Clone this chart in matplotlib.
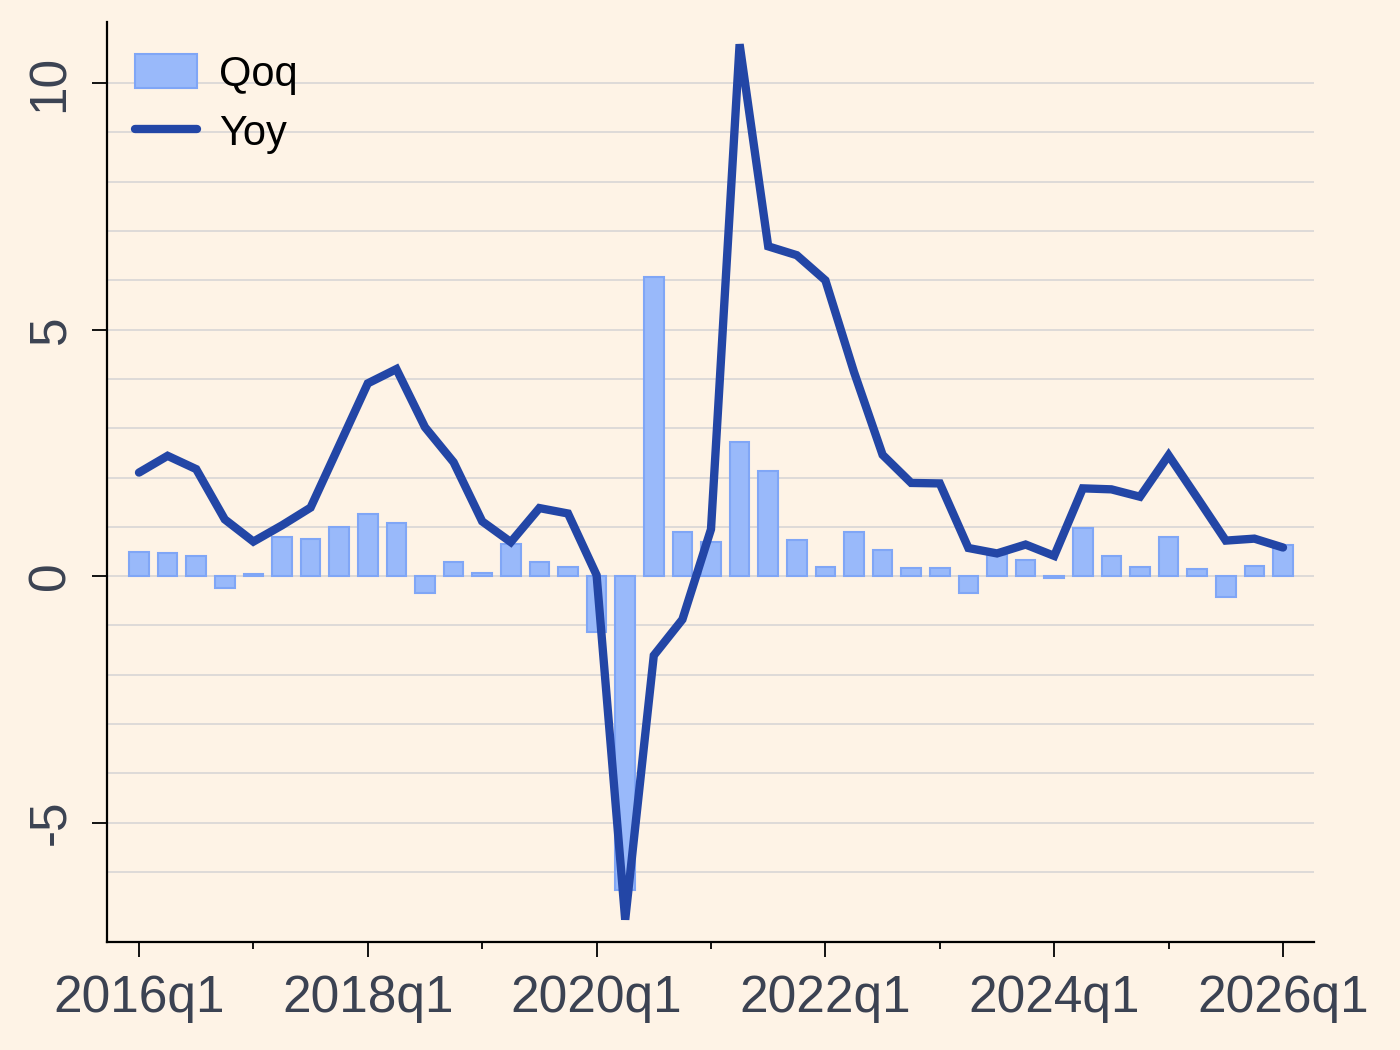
import matplotlib.pyplot as plt
import numpy as np

plt.rcParams['font.family'] = ['Liberation Sans', 'DejaVu Sans']
plt.rcParams['axes.unicode_minus'] = False

# quarters 2016q1 .. 2026q1
quarters = [f"{y}q{q}" for y in range(2016, 2027) for q in range(1, 5)][:41]

qoq = [0.48, 0.46, 0.41, -0.25, 0.05, 0.80, 0.76, 0.99, 1.26, 1.07,
       -0.35, 0.29, 0.07, 0.65, 0.28, 0.19, -1.13, -6.36, 6.06, 0.90,
       0.70, 2.73, 2.14, 0.73, 0.19, 0.90, 0.53, 0.17, 0.17, -0.35,
       0.43, 0.32, -0.04, 0.97, 0.41, 0.19, 0.80, 0.14, -0.42, 0.21, 0.64]

yoy = [2.10, 2.44, 2.17, 1.15, 0.70, 1.03, 1.39, 2.65, 3.91, 4.20,
       3.02, 2.31, 1.11, 0.69, 1.38, 1.27, 0.02, -6.97, -1.61, -0.88,
       0.95, 10.79, 6.69, 6.51, 6.00, 4.14, 2.46, 1.89, 1.88, 0.57,
       0.46, 0.64, 0.41, 1.78, 1.76, 1.61, 2.45, 1.59, 0.72, 0.76, 0.58]

bg = '#FEF3E6'
bar_c = '#99B9FA'
bar_edge = '#80A6F6'
line_c = '#2346A6'
lab_c = '#3B4252'

x = np.arange(len(quarters))

fig = plt.figure(figsize=(14, 10.5), dpi=100, facecolor=bg)
ax = fig.add_axes([0.0764, 0.103, 0.8625, 0.876])
ax.set_facecolor(bg)

for g in range(-6, 11):
    ax.axhline(g, color='#D8D5D6', lw=1.2, zorder=0)

bars = ax.bar(x, qoq, width=0.68, color=bar_c, edgecolor=bar_edge, linewidth=1.5,
              label='Qoq', zorder=2)
line, = ax.plot(x, yoy, color=line_c, lw=6, solid_capstyle='round',
                solid_joinstyle='miter', label='Yoy', zorder=3)

ax.set_xlim(-1.12, 41.1)
ax.set_ylim(-7.42, 11.24)

ax.set_xticks(x[::8])
ax.set_xticklabels(quarters[::8])
ax.set_xticks(x[4::8], minor=True)
ax.set_yticks([-5, 0, 5, 10])

ax.tick_params(axis='both', which='major', length=11, width=1.3,
               labelsize=37, labelcolor=lab_c, color='black')
ax.tick_params(axis='x', which='major', pad=12)
ax.tick_params(axis='y', which='major', pad=12)
ax.tick_params(axis='x', which='minor', length=5, width=1.3)
plt.setp(ax.get_yticklabels(), rotation=90, va='center')

for s in ['top', 'right']:
    ax.spines[s].set_visible(False)
for s in ['left', 'bottom']:
    ax.spines[s].set_linewidth(1.6)

ax.legend([bars, line], ['Qoq', 'Yoy'], loc='upper left',
          bbox_to_anchor=(0.023, 0.965), frameon=False, borderpad=0,
          borderaxespad=0, fontsize=30, handlelength=1.5, handleheight=0.88,
          handletextpad=0.52, labelspacing=0.45)

fig.savefig('out.png', dpi=100, facecolor=bg)
